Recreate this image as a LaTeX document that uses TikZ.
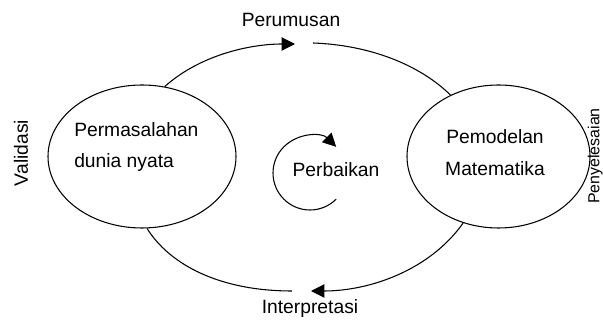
\documentclass[tikz,border=0pt]{standalone}
\usepackage{fontspec}
\setmainfont{Liberation Sans}
\usetikzlibrary{shapes.geometric,arrows.meta}

\begin{document}
\begin{tikzpicture}[x=0.02646cm, y=-0.02646cm,
        bubble/.style={ellipse, draw, line width=0.8pt, inner sep=0pt},
        flow/.style={line width=0.8pt, -{Triangle[length=10pt, width=10pt]}},
        plain_line/.style={line width=0.8pt},
        label_node/.style={font=\fontsize{14.5}{24}\selectfont, inner sep=0pt}
    ]
    \useasboundingbox (0,0) rectangle (603,322);

    % Elips
    \node[bubble, minimum width=188*0.02646cm, minimum height=143*0.02646cm] (masalah) at (142,156.5) {};
    \node[bubble, minimum width=183*0.02646cm, minimum height=143*0.02646cm] (model) at (498.5,156.5) {};

    % Teks dalam elips
    \node[label_node, align=left, anchor=west] (masalahtxt) at (74,147) {Permasalahan\\dunia nyata};
    \node[label_node, align=center] (modeltxt) at (495,152.5) {Pemodelan\\Matematika};

    % Titik ujung panah
    \coordinate (atasA) at (295,44);
    \coordinate (atasB) at (313,43);
    \coordinate (bawahA) at (311,291);
    \coordinate (bawahB) at (292,291);

    % Busur atas
    \draw[flow] (masalah.72) .. controls (200,55) and (250,44) .. (atasA);
    \draw[plain_line] (atasB) .. controls (370,45) and (420,65) .. (model.128);

    % Busur bawah
    \draw[flow] (model.242) .. controls (430,270) and (370,291) .. (bawahA);
    \draw[plain_line] (bawahB) .. controls (220,291) and (170,265) .. (masalah.274);

    % Perbaikan
    \coordinate (putar) at (310,173);
    \draw[flow] (putar) ++(45:37) arc[start angle=45, end angle=315, radius=37];
    \node[label_node] (perbaikan) at (336,170) {Perbaikan};

    % Label
    \node[label_node] (perumusan) at (291,20) {Perumusan};
    \node[label_node] (interpretasi) at (310,309) {Interpretasi};
    \node[label_node, rotate=90] (validasi) at (21,153) {Validasi};
    \node[label_node, font=\fontsize{12}{14}\selectfont, rotate=90, anchor=south] (penyelesaian) at (603,156) {Penyelesaian};
\end{tikzpicture}
\end{document}
